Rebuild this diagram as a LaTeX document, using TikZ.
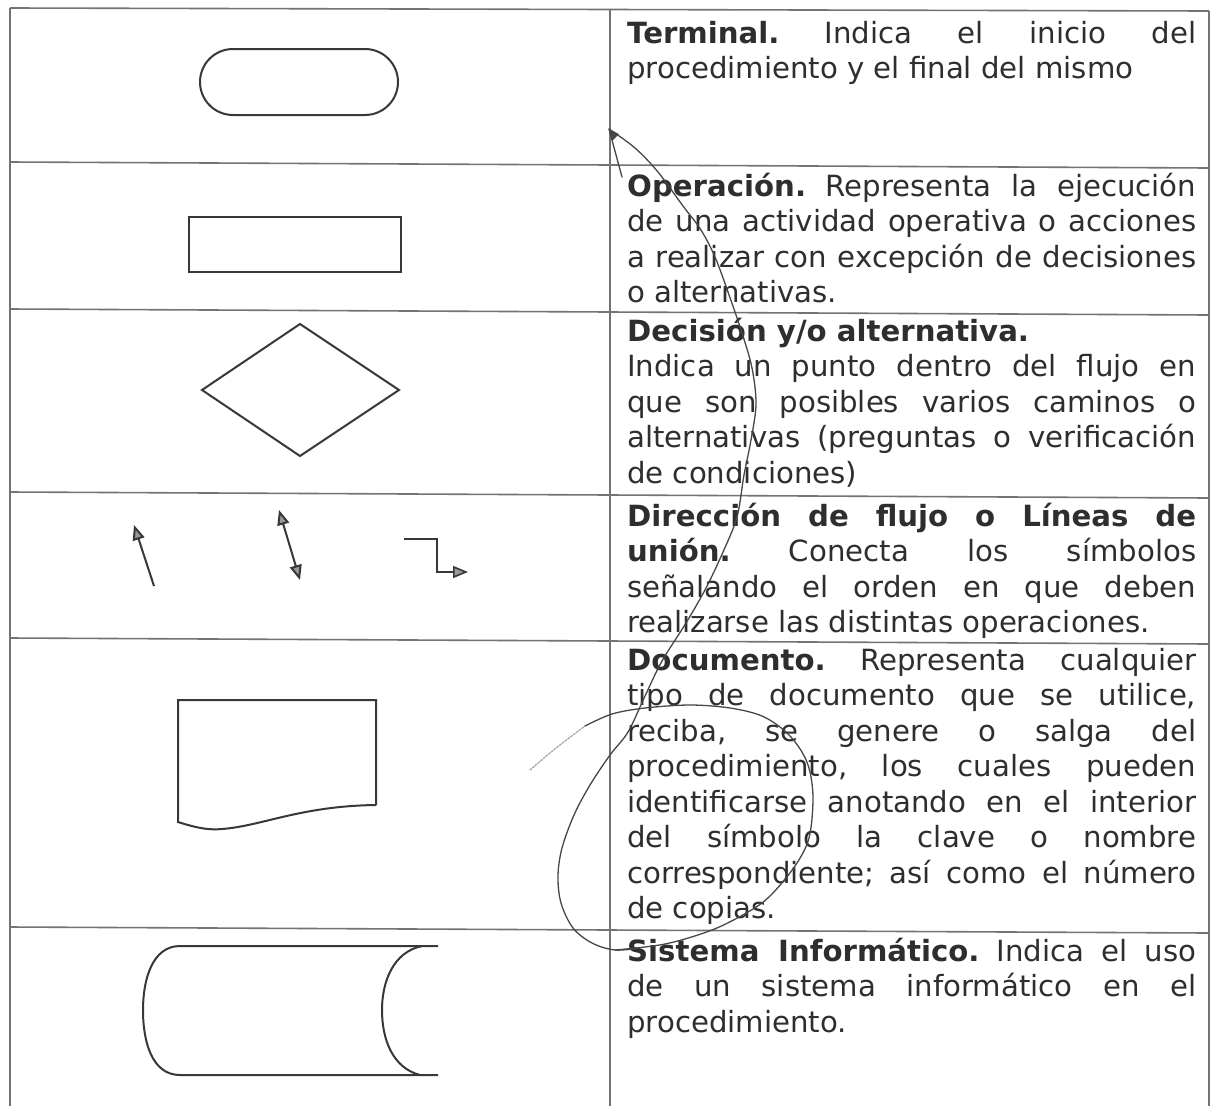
\documentclass[tikz,border=0pt]{standalone}
\usepackage{fontspec}
\setmainfont{DejaVu Sans}
\usetikzlibrary{arrows.meta}
\frenchspacing
\newcommand{\jline}[1]{\makebox[569pt][s]{#1}}
\newcommand{\lline}[1]{\makebox[569pt][l]{#1}}
\tikzset{
  tbl/.style={draw=black!55, line width=1.6pt},
  shp/.style={draw=black!78, line width=2pt},
  flowtip/.style={-{Triangle[length=15pt,width=12pt,fill=black!40]}},
  flow/.style={draw=black!78, line width=2pt, flowtip},
  flowboth/.style={draw=black!78, line width=2pt, {Triangle[length=15pt,width=12pt,fill=black!40]}-{Triangle[length=15pt,width=12pt,fill=black!40]}},
  pen/.style={draw=black!72, line width=1.3pt, line cap=round, line join=round},
  ln/.style={anchor=base west, inner sep=0pt, font=\fontsize{29.2}{35.5}\selectfont, text=black!82}
}
\begin{document}
\begin{tikzpicture}[x=1pt,y=-1pt]
\fill[white] (0,0) rectangle (1213,1106);
\useasboundingbox (0,0) rectangle (1213,1106);

% table frame
\draw[tbl] (10,8) -- (1209,11);
\draw[tbl] (10,8) -- (10,1106);
\draw[tbl] (610,9) -- (610,1106);
\draw[tbl] (1209,11) -- (1209,1106);
\draw[tbl] (10,162) -- (1209,168);
\draw[tbl] (10,309) -- (1209,315);
\draw[tbl] (10,492) -- (1209,498);
\draw[tbl] (10,638) -- (1209,644);
\draw[tbl] (10,927) -- (1209,933);

% symbols
\draw[shp, rounded corners=33pt] (200,49) rectangle (398,115);
\draw[shp] (189,217) rectangle (401,272);
\draw[shp] (300,324) -- (399,390) -- (300,456) -- (202,390) -- cycle;
\draw[flow] (154,586) -- (134,525);
\draw[flowboth] (279,510) -- (300,580);
\draw[flow, line width=1.6pt] (404,539) -- (437,539) -- (437,572) -- (468,572);
\draw[shp] (376,805) -- (376,700) -- (178,700) -- (178,822)
  .. controls (200,829) and (210,830) .. (222,829)
  .. controls (262,826) and (300,806) .. (376,805);
\draw[shp] (438,946) -- (180,946) .. controls (152,946) and (143,980) .. (143,1010)
  .. controls (143,1042) and (152,1075) .. (180,1075) -- (438,1075);
\draw[shp] (422,946) .. controls (393,952) and (382,982) .. (382,1010)
  .. controls (382,1040) and (393,1068) .. (420,1075);

% texts
\node[ln] (t1a) at (627,43)   {\jline{\textbf{Terminal.} Indica el inicio del}};
\node[ln] (t1b) at (627,78.5) {\lline{procedimiento y el final del mismo}};

\node[ln] (t2a) at (627,196)   {\jline{\textbf{Operación.} Representa la ejecución}};
\node[ln] (t2b) at (627,231.5) {\jline{de una actividad operativa o acciones}};
\node[ln] (t2c) at (627,267)   {\jline{a realizar con excepción de decisiones}};
\node[ln] (t2d) at (627,302.5) {\lline{o alternativas.}};

\node[ln] (t3a) at (627,341)   {\lline{\textbf{Decisión y/o alternativa.}}};
\node[ln] (t3b) at (627,376.5) {\jline{Indica un punto dentro del flujo en}};
\node[ln] (t3c) at (627,412)   {\jline{que son posibles varios caminos o}};
\node[ln] (t3d) at (627,447.5) {\jline{alternativas (preguntas o verificación}};
\node[ln] (t3e) at (627,483)   {\lline{de condiciones)}};

\node[ln] (t4a) at (627,526)   {\jline{\textbf{Dirección de flujo o Líneas de}}};
\node[ln] (t4b) at (627,561.5) {\jline{\textbf{unión.} Conecta los símbolos}};
\node[ln] (t4c) at (627,597)   {\jline{señalando el orden en que deben}};
\node[ln] (t4d) at (627,632.5) {\lline{realizarse las distintas operaciones.}};

\node[ln] (t5a) at (627,670)   {\jline{\textbf{Documento.} Representa cualquier}};
\node[ln] (t5b) at (627,705.5) {\jline{tipo de documento que se utilice,}};
\node[ln] (t5c) at (627,741)   {\jline{reciba, se genere o salga del}};
\node[ln] (t5d) at (627,776.5) {\jline{procedimiento, los cuales pueden}};
\node[ln] (t5e) at (627,812)   {\jline{identificarse anotando en el interior}};
\node[ln] (t5f) at (627,847.5) {\jline{del símbolo la clave o nombre}};
\node[ln] (t5g) at (627,883)   {\jline{correspondiente; así como el número}};
\node[ln] (t5h) at (627,918.5) {\lline{de copias.}};

\node[ln] (t6a) at (627,961)   {\jline{\textbf{Sistema Informático.} Indica el uso}};
\node[ln] (t6b) at (627,996.5) {\jline{de un sistema informático en el}};
\node[ln] (t6c) at (627,1032)  {\lline{procedimiento.}};

% hand-drawn pen annotation
\coordinate (pentip) at (609,129);
\draw[pen] plot[smooth, tension=0.55] coordinates {(640,948) (615,950) (592,943) (573,928) (561,903) (558,876) (562,848) (574,815) (590,785) (610,755) (628,732) (645,696) (662,661) (686,623) (706,588) (723,552) (737,517) (744,475) (751,440) (756,404) (752,368) (742,333) (728,292) (715,257) (701,230) (683,206) (658,172) (635,148) (609,129)};
\draw[pen] (pentip) -- (622,177);
\fill[black!72] (pentip) -- (619,134) -- (612,141) -- cycle;
\draw[pen, draw=black!35, dash pattern=on 2pt off 1.5pt] plot[smooth] coordinates {(530,770) (556,748) (585,726)};
\draw[pen] plot[smooth, tension=0.55] coordinates {(585,726) (612,714) (645,708) (690,705) (730,708) (762,716) (786,732) (802,752) (810,772) (813,800) (809,838) (795,866) (770,896) (748,912) (712,930) (665,944) (615,950)};
\end{tikzpicture}
\end{document}
